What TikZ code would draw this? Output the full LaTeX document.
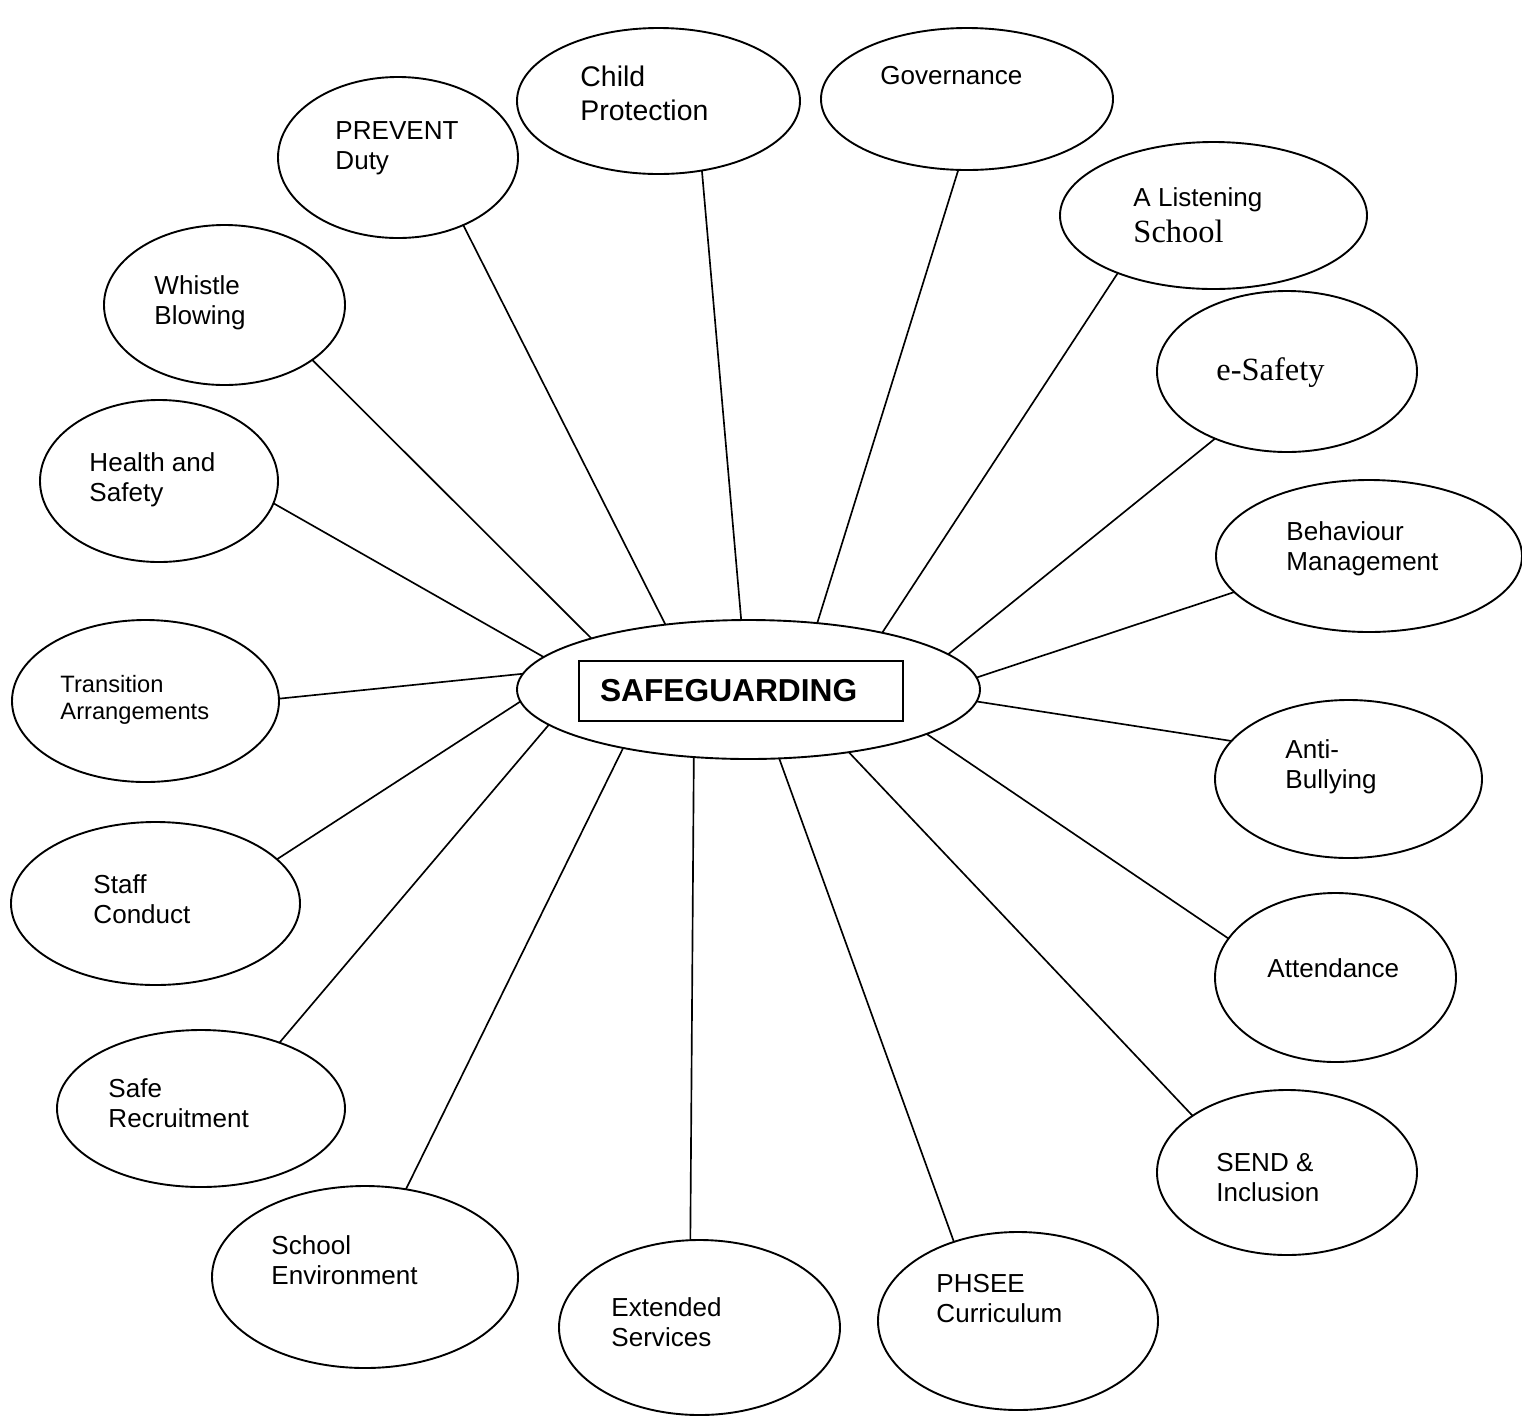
\documentclass[tikz,border=0pt]{standalone}
\usepackage{fontspec}
\setmainfont{Liberation Sans}
\newfontfamily\camfont{Liberation Serif}
\usetikzlibrary{shapes.geometric}
\newcommand{\pxu}{0.01484cm}

\begin{document}
\begin{tikzpicture}[x=\pxu, y=-\pxu,
  bub/.style 2 args={ellipse, draw, line width=0.8pt, inner sep=0pt, outer sep=0pt,
    minimum width=#1*\pxu, minimum height=#2*\pxu},
  txt/.style={align=left, inner sep=0pt, anchor=base west, font=\fontsize{11}{12.6}\selectfont},
  link/.style={line width=0.7pt}]
  \useasboundingbox (0,0) rectangle (1522,1415);

  % Hub
  \node[bub={463}{139}] (hub) at (748.5,689.5) {};
  \node[draw, line width=1pt, inner xsep=21*\pxu, inner ysep=0pt,
    text width=282*\pxu, minimum height=60*\pxu, align=left,
    font=\fontsize{13.4}{15}\selectfont\bfseries] (sg) at (741,691) {SAFEGUARDING};

  % Bubbles, clockwise from the top left
  % (text is placed by the baseline of its last line)
  \node[bub={240}{161}] (prevent) at (398,157.5) {};
  \node[txt] (prevent-t) at (335,169) {PREVENT\\Duty};

  \node[bub={283}{146}] (child) at (658.5,101) {};
  \node[txt, font=\fontsize{12}{14.3}\selectfont] (child-t) at (580,120) {Child\\Protection};

  \node[bub={292}{142}] (gov) at (967,99) {};
  \node[txt] (gov-t) at (880,84) {Governance};

  \node[bub={307}{147}] (listen) at (1213.5,215.5) {};
  \node[txt, font=\fontsize{11}{15.2}\selectfont] (listen-t) at (1133,242)
    {A Listening\\{\camfont\fontsize{13.7}{15.2}\selectfont School}};

  \node[bub={260}{161}] (esafe) at (1287,371.5) {};
  \node[txt, font=\camfont\fontsize{13.7}{15.2}\selectfont] (esafe-t) at (1216,380) {e-Safety};

  \node[bub={306}{152}] (behav) at (1369,556) {};
  \node[txt] (behav-t) at (1286,570) {Behaviour\\Management};

  \node[bub={267}{158}] (anti) at (1348.5,779) {};
  \node[txt] (anti-t) at (1285,788) {Anti-\\Bullying};

  \node[bub={241}{169}] (attend) at (1335.5,977.5) {};
  \node[txt] (attend-t) at (1267,977) {Attendance};

  \node[bub={260}{165}] (send) at (1287,1172.5) {};
  \node[txt] (send-t) at (1216,1201) {SEND \&\\Inclusion};

  \node[bub={280}{178}] (phsee) at (1018,1321) {};
  \node[txt] (phsee-t) at (936,1322) {PHSEE\\Curriculum};

  \node[bub={281}{175}] (ext) at (699.5,1327.5) {};
  \node[txt] (ext-t) at (611,1346) {Extended\\Services};

  \node[bub={306}{182}] (env) at (365,1277) {};
  \node[txt] (env-t) at (271,1284) {School\\Environment};

  \node[bub={288}{157}] (recruit) at (201,1108.5) {};
  \node[txt] (recruit-t) at (108,1127) {Safe\\Recruitment};

  \node[bub={289}{163}] (staff) at (155.5,903.5) {};
  \node[txt] (staff-t) at (93,923) {Staff\\Conduct};

  \node[bub={267}{162}] (trans) at (145.5,701) {};
  \node[txt, font=\fontsize{10}{11}\selectfont] (trans-t) at (60,719) {Transition\\Arrangements};

  \node[bub={238}{162}] (health) at (159,481) {};
  \node[txt] (health-t) at (89,501) {Health and\\Safety};

  \node[bub={241}{160}] (whistle) at (224.5,305) {};
  \node[txt] (whistle-t) at (154,324) {Whistle\\Blowing};

  % Spokes
  \draw[link] (hub.142) -- (prevent.-46.7);
  \draw[link] (hub.96) -- (child.-58.3);
  \draw[link] (hub.44) -- (gov.-97.2);
  \draw[link] (hub.23) -- (listen.-149.8);
  \draw[link] (hub.10) -- (esafe.-137.3);
  \draw[link] (hub.3) -- (behav.-165.8);
  \draw[link] (hub.-3) -- (anti.162.7);
  \draw[link] (hub.-14) -- (attend.160.4);
  \draw[link] (hub.-32) -- (send.149.1);
  \draw[link] (hub.-66) -- (phsee.129.7);
  \draw[link] (hub.-129.5) -- (ext.96.2);
  \draw[link] (hub.-155.7) -- (env.65.3);
  \draw[link] (hub.-170.6) -- (recruit.40.6);
  \draw[link] (hub.-177.4) -- (staff.20.4);
  \draw[link] (hub.176.9) -- (trans.1.7);
  \draw[link] (hub.171.7) -- (health.-11.4);
  \draw[link] (hub.162.7) -- (whistle.-32.8);
\end{tikzpicture}
\end{document}
